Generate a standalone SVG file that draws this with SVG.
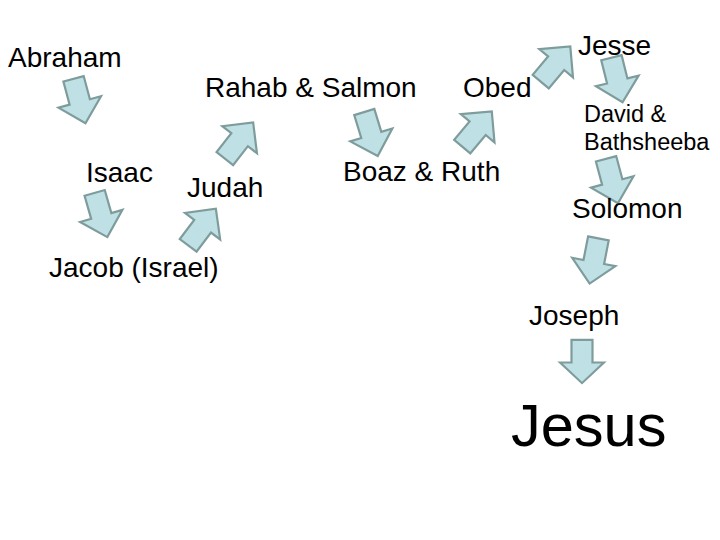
<svg xmlns="http://www.w3.org/2000/svg" width="720" height="540" viewBox="0 0 720 540">
<defs>
<path id="arr" d="M-10.5,-23 H10.5 V1 H22 L0,23 L-22,1 H-10.5 Z"/>
<style>
.t{font-family:"Liberation Sans",Arial,sans-serif;font-size:28px;fill:#000}
.s{font-size:23.5px}
.a{fill:#bfe0e4;stroke:#7f9c9c;stroke-width:2.2;stroke-linejoin:miter}
</style>
</defs>
<rect width="720" height="540" fill="#fff"/>
<g id="connectors">
<use href="#arr" class="a" transform="translate(79.5,101) rotate(-15)"/>
<use href="#arr" class="a" transform="translate(101,215) rotate(-16)"/>
<use href="#arr" class="a" transform="translate(202,227) rotate(217)"/>
<use href="#arr" class="a" transform="translate(239,140.5) rotate(218)"/>
<use href="#arr" class="a" transform="translate(371,134) rotate(-17)"/>
<use href="#arr" class="a" transform="translate(477,129) rotate(220)"/>
<use href="#arr" class="a" transform="translate(555.5,64) rotate(220)"/>
<use href="#arr" class="a" transform="translate(617,80) rotate(-14)"/>
<use href="#arr" class="a" transform="translate(612,181) rotate(-15)"/>
<use href="#arr" class="a" transform="translate(594,261) rotate(11)"/>
<use href="#arr" class="a" transform="translate(582,361.5) scale(1,0.94)"/>
</g>
<g id="abraham"><text class="t" x="8" y="67">Abraham</text></g>
<g id="isaac"><text class="t" x="86" y="182">Isaac</text></g>
<g id="jacob"><text class="t" x="49" y="277">Jacob (Israel)</text></g>
<g id="judah"><text class="t" x="187" y="197">Judah</text></g>
<g id="rahab"><text class="t" x="205" y="97">Rahab &amp; Salmon</text></g>
<g id="boaz"><text class="t" x="343" y="181">Boaz &amp; Ruth</text></g>
<g id="obed"><text class="t" x="463" y="97">Obed</text></g>
<g id="jesse"><text class="t" x="578" y="55">Jesse</text></g>
<g id="david"><text class="t s" x="584" y="122">David &amp;</text><text class="t s" x="584" y="150">Bathsheeba</text></g>
<g id="solomon"><text class="t" x="572" y="218">Solomon</text></g>
<g id="joseph"><text class="t" x="529" y="325">Joseph</text></g>
<g id="jesus"><text class="t" x="511" y="446" style="font-size:59.5px">Jesus</text></g>
</svg>
